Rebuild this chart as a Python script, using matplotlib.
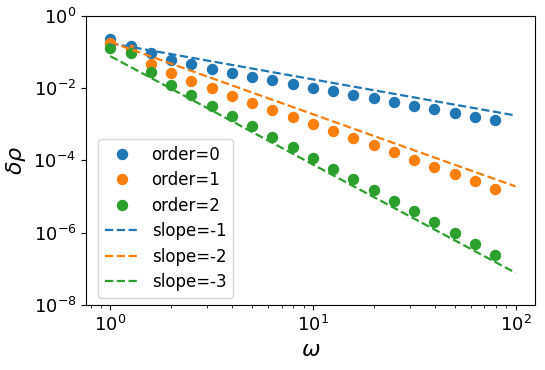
import matplotlib
matplotlib.use("Agg")
import matplotlib.pyplot as plt
import numpy as np

# frequencies (0.1 decade steps)
omega = 10 ** (np.arange(20) / 10)

# error per order
err0 = [0.23, 0.150, 0.0927, 0.0616, 0.0459, 0.0340, 0.0269, 0.0208, 0.0166, 0.0131,
        0.0103, 0.00836, 0.00648, 0.00525, 0.00407, 0.00321, 0.00260, 0.00202, 0.00163, 0.00132]
err1 = [0.175, 0.114, 0.0459, 0.0264, 0.0158, 0.00993, 0.00619, 0.00389, 0.00254, 0.00162,
        0.00102, 6.52e-4, 4.17e-4, 2.67e-4, 1.68e-4, 1.04e-4, 6.69e-5, 4.20e-5, 2.64e-5, 1.64e-5]
err2 = [0.127, 0.0927, 0.0286, 0.0125, 0.00636, 0.00328, 0.00170, 8.81e-4, 4.54e-4, 2.35e-4,
        1.19e-4, 5.89e-5, 3.00e-5, 1.51e-5, 7.65e-6, 3.89e-6, 1.93e-6, 9.57e-7, 4.83e-7, 2.40e-7]

# reference slopes
slopes = [-1, -2, -3]
prefac = [0.175, 0.19, 0.077]
x_line = np.array([1.0, 100.0])

plt.rcParams['font.size'] = 13

fig = plt.figure(figsize=(5.45, 3.70), dpi=100)
ax = fig.add_subplot(1, 1, 1)
fig.subplots_adjust(left=0.158, right=0.982, top=0.957, bottom=0.176)

cols = ['C0', 'C1', 'C2']
for k, e in enumerate([err0, err1, err2]):
    ax.loglog(omega, e, 'o', color=cols[k], ms=7.2, label=f'order={k}')
for k, s in enumerate(slopes):
    ax.loglog(x_line, prefac[k] * x_line ** s, '--', color=cols[k], lw=1.6, label=f'slope={s}')

ax.set_xlim(0.76, 125)
ax.set_ylim(1e-8, 1)
ax.set_yticks([1e0, 1e-2, 1e-4, 1e-6, 1e-8])
ax.set_xlabel(r'$\omega$', fontsize=16)
ax.set_ylabel(r'$\delta\rho$', fontsize=16)
ax.legend(loc='lower left', fontsize=12, labelspacing=0.45,
          bbox_to_anchor=(0.027, 0.024), borderaxespad=0)

fig.savefig('out.png', dpi=100)
